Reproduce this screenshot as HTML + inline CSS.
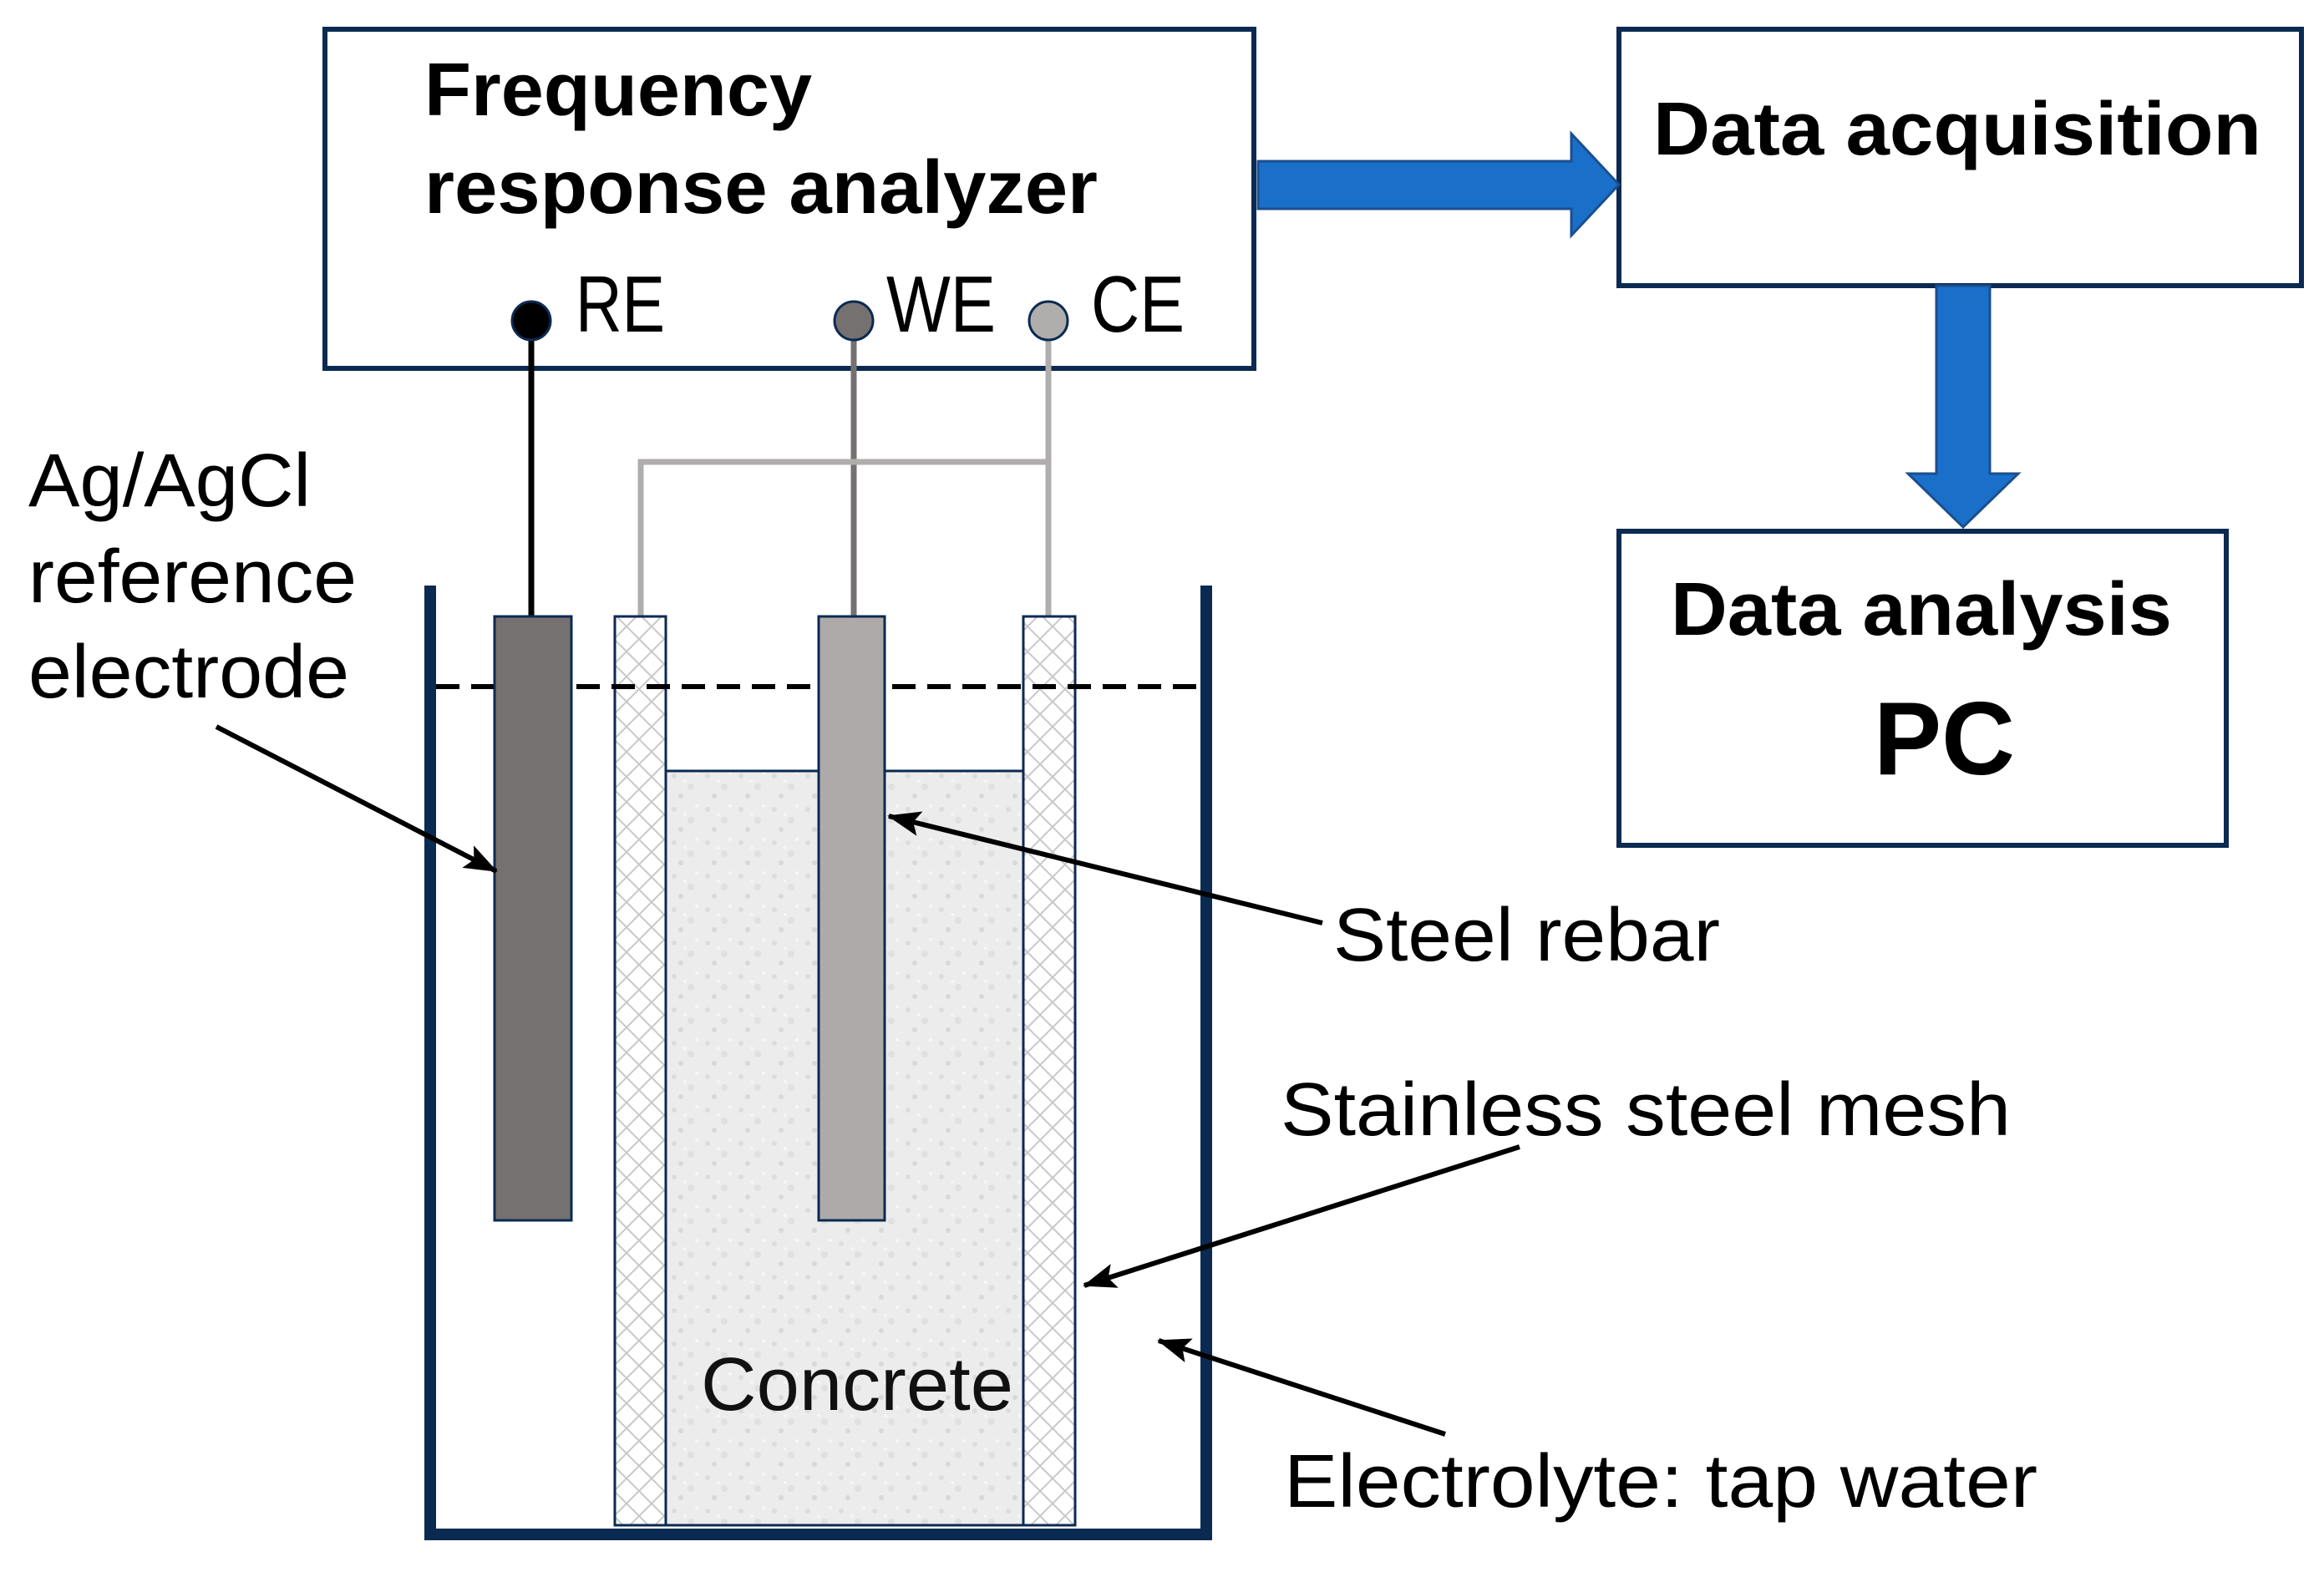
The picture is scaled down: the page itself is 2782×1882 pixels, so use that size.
<!DOCTYPE html>
<html><head><meta charset="utf-8"><style>html,body{margin:0;padding:0;background:#fff}svg{display:block}</style></head>
<body>
<svg width="2782" height="1882" viewBox="0 0 2782 1882" xmlns="http://www.w3.org/2000/svg" font-family="Liberation Sans, sans-serif">
<defs>
<pattern id="mesh" width="30" height="30" patternUnits="userSpaceOnUse">
<rect width="30" height="30" fill="#fff"/>
<path d="M0 0L30 30M30 0L0 30" stroke="#c8c8c8" stroke-width="2"/>
</pattern>
<pattern id="conc" width="40" height="40" patternUnits="userSpaceOnUse">
<rect width="40" height="40" fill="#ececec"/>
<circle cx="7" cy="9" r="3" fill="#dcdcdc"/><circle cx="27" cy="22" r="4" fill="#e0e0e0"/><circle cx="15" cy="33" r="3" fill="#d8d8d8"/><circle cx="34" cy="5" r="2" fill="#f7f7f7"/><circle cx="20" cy="15" r="2" fill="#f6f6f6"/>
</pattern>
<marker id="ah" markerWidth="40" markerHeight="30" refX="38" refY="15" orient="auto" markerUnits="userSpaceOnUse" viewBox="0 0 40 30"><path d="M0 0L40 15L0 30L8 15z" fill="#000"/></marker>
</defs>

<rect x="389" y="35" width="1112" height="406" fill="#fff" stroke="#0b2a52" stroke-width="6"/>
<rect x="1938" y="35" width="817" height="307" fill="#fff" stroke="#0b2a52" stroke-width="6"/>
<rect x="1938" y="636" width="727" height="376" fill="#fff" stroke="#0b2a52" stroke-width="6"/>

<path d="M1506 193H1881V160L1938 221L1881 282V250H1506Z" fill="#1a6fc9" stroke="#1a4f8f" stroke-width="3"/>
<path d="M2318 342H2382V567H2416L2350 631L2284 567H2318Z" fill="#1a6fc9" stroke="#1a4f8f" stroke-width="3"/>

<text x="508" y="138" font-size="90" font-weight="bold" textLength="464" lengthAdjust="spacingAndGlyphs">Frequency</text>
<text x="508" y="255" font-size="90" font-weight="bold" textLength="806" lengthAdjust="spacingAndGlyphs">response analyzer</text>
<text x="1979" y="185" font-size="90" font-weight="bold" textLength="728" lengthAdjust="spacingAndGlyphs">Data acquisition</text>
<text x="2000" y="760" font-size="90" font-weight="bold" textLength="600" lengthAdjust="spacingAndGlyphs">Data analysis</text>
<text x="2243" y="927" font-size="124" font-weight="bold" textLength="169" lengthAdjust="spacingAndGlyphs">PC</text>

<text x="689" y="397" font-size="96" textLength="107" lengthAdjust="spacingAndGlyphs">RE</text>
<text x="1061" y="397" font-size="96" textLength="131" lengthAdjust="spacingAndGlyphs">WE</text>
<text x="1306" y="397" font-size="96" textLength="112" lengthAdjust="spacingAndGlyphs">CE</text>

<line x1="636" y1="383" x2="636" y2="738" stroke="#000" stroke-width="7"/>
<line x1="1022" y1="383" x2="1022" y2="738" stroke="#767171" stroke-width="7"/>
<line x1="1255" y1="383" x2="1255" y2="738" stroke="#b0adad" stroke-width="7"/>
<polyline points="767,738 767,553 1255,553" fill="none" stroke="#b0adad" stroke-width="7"/>
<circle cx="636" cy="384" r="23" fill="#000" stroke="#0b2a52" stroke-width="3"/>
<circle cx="1022" cy="384" r="23" fill="#767171" stroke="#0b2a52" stroke-width="3"/>
<circle cx="1255" cy="384" r="23" fill="#b0adad" stroke="#0b2a52" stroke-width="3"/>

<polyline points="515,701 515,1837 1444,1837 1444,701" fill="none" stroke="#0b2a52" stroke-width="14"/>
<rect x="797" y="923" width="428" height="903" fill="url(#conc)" stroke="#0b2a52" stroke-width="3"/>
<rect x="736" y="738" width="61" height="1088" fill="url(#mesh)" stroke="#0b2a52" stroke-width="3"/>
<rect x="1225" y="738" width="62" height="1088" fill="url(#mesh)" stroke="#0b2a52" stroke-width="3"/>
<line x1="522" y1="822" x2="1437" y2="822" stroke="#000" stroke-width="6" stroke-dasharray="28,14"/>
<rect x="592" y="738" width="92" height="723" fill="#767171" stroke="#0b2a52" stroke-width="3"/>
<rect x="980" y="738" width="79" height="723" fill="#aeaaaa" stroke="#0b2a52" stroke-width="3"/>
<text x="839" y="1688" font-size="90" textLength="374" lengthAdjust="spacingAndGlyphs" fill="#111">Concrete</text>

<text x="34" y="606" font-size="90" textLength="338" lengthAdjust="spacingAndGlyphs">Ag/AgCl</text>
<text x="34" y="721" font-size="90" textLength="393" lengthAdjust="spacingAndGlyphs">reference</text>
<text x="34" y="835" font-size="90" textLength="384" lengthAdjust="spacingAndGlyphs">electrode</text>
<text x="1596" y="1150" font-size="90" textLength="463" lengthAdjust="spacingAndGlyphs">Steel rebar</text>
<text x="1533" y="1359" font-size="90" textLength="874" lengthAdjust="spacingAndGlyphs">Stainless steel mesh</text>
<text x="1537" y="1804" font-size="90" textLength="902" lengthAdjust="spacingAndGlyphs">Electrolyte: tap water</text>

<g stroke="#000" stroke-width="6" marker-end="url(#ah)">
<line x1="259" y1="870" x2="594" y2="1043"/>
<line x1="1583" y1="1105" x2="1064" y2="977"/>
<line x1="1819" y1="1373" x2="1298" y2="1539"/>
<line x1="1730" y1="1717" x2="1387" y2="1605"/>
</g>
</svg>
</body></html>
